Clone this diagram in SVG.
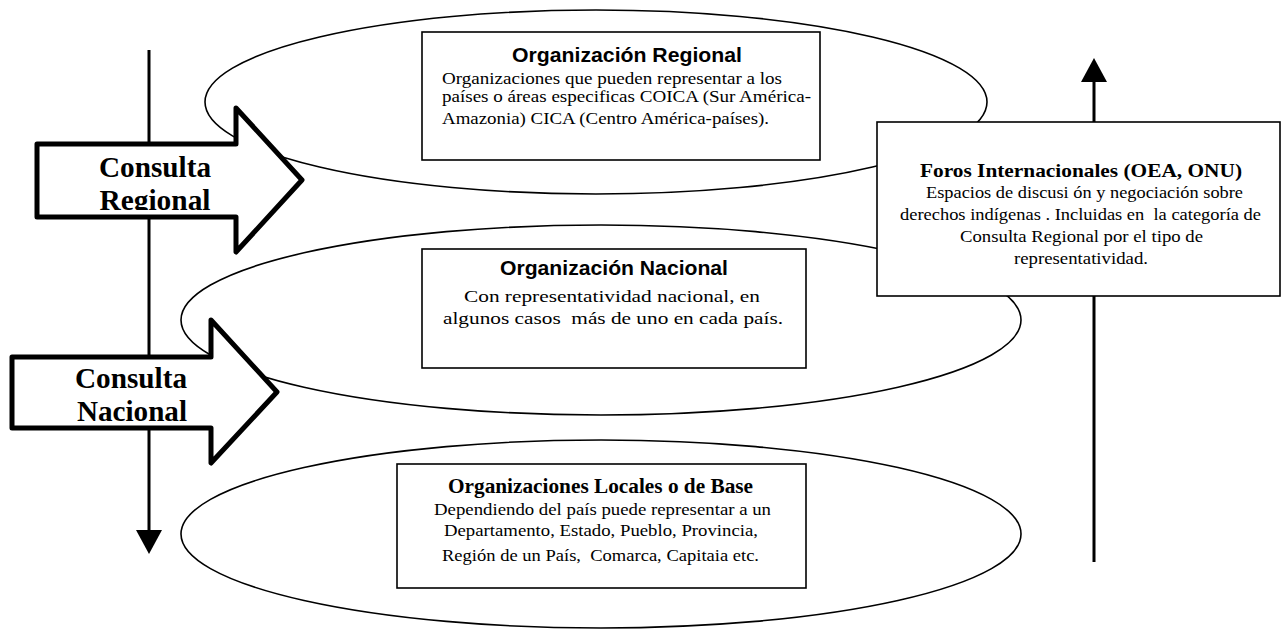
<svg xmlns="http://www.w3.org/2000/svg" width="1281" height="630" viewBox="0 0 1281 630">
<style>
text{white-space:pre}
.ell{fill:none;stroke:#000;stroke-width:1.6}
.box{fill:#fff;stroke:#000;stroke-width:1.6}
.blk{fill:#fff;stroke:#000;stroke-width:5;stroke-linejoin:round}
.conn{stroke:#000;stroke-width:3;fill:none}
.ts{font-family:"Liberation Sans",Arial,sans-serif;font-weight:bold;font-size:20px;fill:#000}
.tb{font-family:"Liberation Serif","Times New Roman",serif;font-weight:bold;fill:#000}
.tr{font-family:"Liberation Serif","Times New Roman",serif;font-size:17px;fill:#000}
.big{font-family:"Liberation Serif","Times New Roman",serif;font-weight:bold;font-size:30px;fill:#000}
</style>
<defs>
<marker id="ah" markerUnits="userSpaceOnUse" markerWidth="24" markerHeight="26" refX="0" refY="13" orient="auto">
<path d="M0,0 L24,13 L0,26 Z" fill="#000"/>
</marker>
<clipPath id="c1"><rect x="37" y="144" width="200" height="66"/></clipPath>
</defs>
<rect width="1281" height="630" fill="#fff"/>
<g id="ellipses">
<ellipse id="ell-regional" class="ell" cx="596" cy="102" rx="391" ry="92"/>
<ellipse id="ell-nacional" class="ell" cx="601" cy="320" rx="420" ry="95"/>
<ellipse id="ell-local" class="ell" cx="601" cy="534" rx="420" ry="94"/>
</g>
<g id="connectors">
<line class="conn" x1="149" y1="50" x2="149" y2="530" marker-end="url(#ah)"/>
<line class="conn" x1="1094" y1="562" x2="1094" y2="82" marker-end="url(#ah)"/>
</g>
<g id="node-regional">
<rect class="box" x="422" y="32" width="398" height="128"/>
<text class="ts" x="627" y="62" text-anchor="middle" textLength="230" lengthAdjust="spacingAndGlyphs">Organización Regional</text>
<text class="tr" x="442" y="84" textLength="340" lengthAdjust="spacingAndGlyphs">Organizaciones que pueden representar a los</text>
<text class="tr" x="442" y="102" textLength="369" lengthAdjust="spacingAndGlyphs">países o áreas especificas COICA (Sur América-</text>
<text class="tr" x="442" y="124" textLength="327" lengthAdjust="spacingAndGlyphs">Amazonia) CICA (Centro América-países).</text>
</g>
<g id="node-nacional">
<rect class="box" x="422" y="249" width="384" height="119"/>
<text class="ts" x="614" y="275" text-anchor="middle" textLength="228" lengthAdjust="spacingAndGlyphs">Organización Nacional</text>
<text class="tr" x="464" y="302" font-size="19" textLength="296" lengthAdjust="spacingAndGlyphs">Con representatividad nacional, en</text>
<text class="tr" x="443" y="324" font-size="19" textLength="340" lengthAdjust="spacingAndGlyphs">algunos casos  más de uno en cada país.</text>
</g>
<g id="node-local">
<rect class="box" x="397" y="464" width="409" height="124"/>
<text class="tb" x="448" y="493" font-size="20" textLength="305" lengthAdjust="spacingAndGlyphs">Organizaciones Locales o de Base</text>
<text class="tr" x="434" y="515" textLength="337" lengthAdjust="spacingAndGlyphs">Dependiendo del país puede representar a un</text>
<text class="tr" x="444" y="536" textLength="314" lengthAdjust="spacingAndGlyphs">Departamento, Estado, Pueblo, Provincia,</text>
<text class="tr" x="442" y="561" textLength="317" lengthAdjust="spacingAndGlyphs">Región de un País,  Comarca, Capitaia etc.</text>
</g>
<g id="node-foros">
<rect class="box" x="877" y="122" width="403" height="174"/>
<text class="tb" x="920" y="177" font-size="19" textLength="322" lengthAdjust="spacingAndGlyphs">Foros Internacionales (OEA, ONU)</text>
<text class="tr" x="926" y="198" textLength="317" lengthAdjust="spacingAndGlyphs">Espacios de discusi ón y negociación sobre</text>
<text class="tr" x="900" y="220" textLength="361" lengthAdjust="spacingAndGlyphs">derechos indígenas . Incluidas en  la categoría de</text>
<text class="tr" x="960" y="242" textLength="243" lengthAdjust="spacingAndGlyphs">Consulta Regional por el tipo de</text>
<text class="tr" x="1014" y="264" textLength="134" lengthAdjust="spacingAndGlyphs">representatividad.</text>
</g>
<g id="node-consulta-regional">
<path class="blk" d="M37,144 L236,144 L236,108 L302,180 L236,252 L236,217 L37,217 Z"/>
<text class="big" x="155" y="177" text-anchor="middle" textLength="112" lengthAdjust="spacingAndGlyphs">Consulta</text>
<text class="big" x="155" y="210" text-anchor="middle" textLength="111" lengthAdjust="spacingAndGlyphs" clip-path="url(#c1)">Regional</text>
</g>
<g id="node-consulta-nacional">
<path class="blk" d="M12,357 L211,357 L211,320 L277,392 L211,463 L211,428 L12,428 Z"/>
<text class="big" x="131" y="388" text-anchor="middle" textLength="112" lengthAdjust="spacingAndGlyphs">Consulta</text>
<text class="big" x="132" y="421" text-anchor="middle" textLength="110" lengthAdjust="spacingAndGlyphs">Nacional</text>
</g>
</svg>
